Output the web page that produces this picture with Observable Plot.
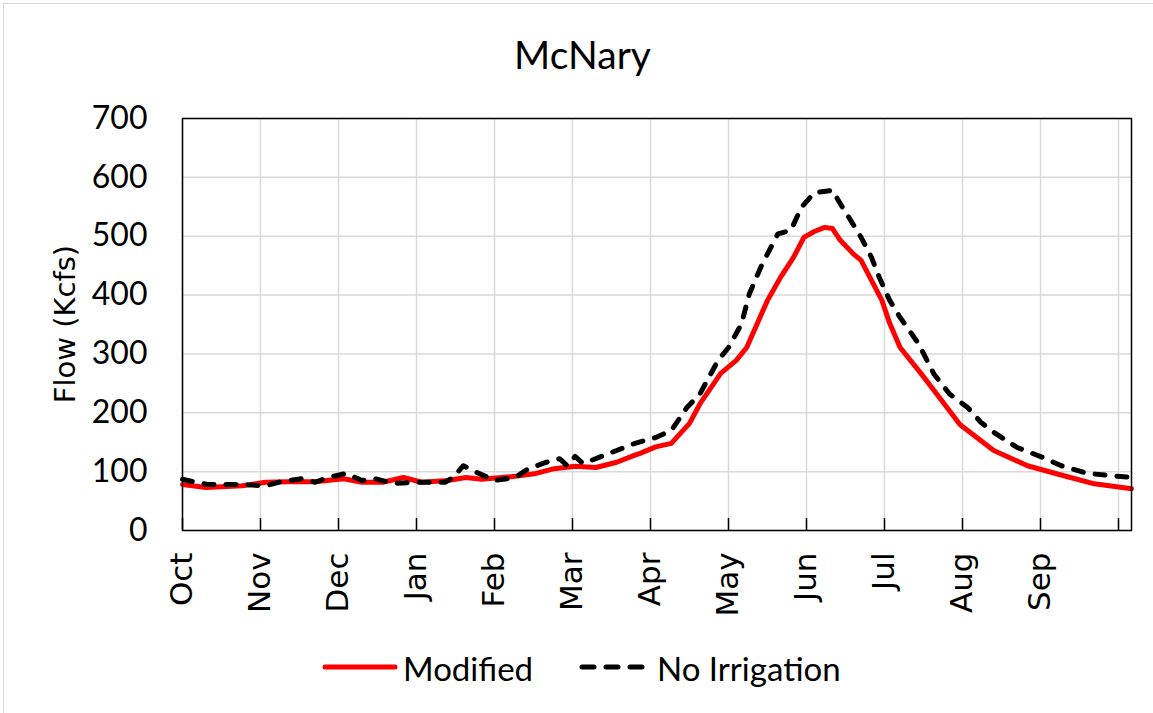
<!DOCTYPE html>
<html>
<head>
<meta charset="utf-8">
<script src="https://cdn.jsdelivr.net/npm/d3@7"></script>
<script src="https://cdn.jsdelivr.net/npm/@observablehq/plot@0.6"></script>
<style>
  html, body { margin: 0; padding: 0; background: #fff; }
  #wrap { position: relative; width: 1153px; height: 713px; overflow: hidden; background: #fff; }
  #border { position: absolute; left: 3px; top: 3px; width: 1200px; height: 800px; border-left: 1px solid #d9d9d9; border-top: 1px solid #d9d9d9; pointer-events: none; }
  #title { position: relative; height: 90px; }
  #title span { position: absolute; left: 0; width: 1165px; top: 35px; text-align: center; font-family: Lato, sans-serif; font-size: 39px; line-height: 1; color: #000; }
  #chart { position: relative; height: 560px; }
  #ylabel { position: absolute; left: 65px; top: 234px; transform: translate(-50%, -50%) rotate(-90deg); white-space: nowrap; font-family: "DejaVu Sans", sans-serif; font-size: 29px; line-height: 1; color: #000; }
  #legend { position: relative; height: 63px; font-family: Lato, sans-serif; font-size: 33px; line-height: 1; color: #000; }
  #legend .t { position: absolute; top: 2px; }
  #legend svg { position: absolute; top: 12px; }
</style>
</head>
<body>
<div id="wrap">
  <div id="border"></div>
  <div id="title"><span>McNary</span></div>
  <div id="chart"><div id="ylabel"></div></div>
  <div id="legend">
    <svg style="left:320px" width="80" height="10"><line x1="5" y1="5" x2="75" y2="5" stroke="#ff0000" stroke-width="5" stroke-linecap="round"/></svg>
    <span class="t" style="left:403px">Modified</span>
    <svg style="left:575px" width="76" height="10"><line x1="7" y1="5" x2="70" y2="5" stroke="#000" stroke-width="5" stroke-linecap="round" stroke-dasharray="12,12"/></svg>
    <span class="t" style="left:657px">No Irrigation</span>
  </div>
</div>
<script>
// Category ticks (every 30 days of the water year) and their labels
const xTickDays = [0, 30, 60, 90, 120, 150, 180, 210, 240, 270, 300, 330, 360];
const monthLabels = ["Oct", "Nov", "Dec", "Jan", "Feb", "Mar", "Apr", "May", "Jun", "Jul", "Aug", "Sep", ""];
const yTickValues = [0, 100, 200, 300, 400, 500, 600, 700];

// Modified series (day of water year, flow in kcfs)
const modDays = [0, 9, 23, 32, 40, 51, 62, 69, 77, 85, 92, 102, 109, 115, 128, 136, 143, 151, 159, 167, 174, 176, 182, 188, 195, 199, 207, 213, 217, 225, 230, 235, 239, 243, 247, 250, 253, 258, 261, 265, 269, 272, 276, 284, 292, 299, 307, 312, 325, 339, 350, 365];
const modFlow = [78, 73, 76, 82, 83, 83, 88, 82, 82, 90, 82, 85, 90, 87, 92, 97, 105, 109, 107, 116, 128, 131, 142, 148, 182, 215, 267, 289, 311, 391, 430, 464, 498, 508, 515, 513, 493, 470, 459, 425, 391, 352, 311, 267, 221, 180, 153, 136, 110, 93, 80, 71];

// No Irrigation series
const noIrrDays = [0, 5, 10, 23, 32, 38, 46, 51, 56, 63, 69, 74, 81, 90, 101, 104, 108, 113, 120, 128, 133, 140, 145, 148, 151, 154, 159, 167, 174, 182, 188, 194, 199, 206, 210, 215, 218, 223, 229, 234, 238, 243, 250, 253, 257, 261, 265, 268, 272, 276, 283, 289, 295, 302, 307, 312, 321, 331, 338, 348, 365];
const noIrrFlow = [87, 82, 78, 78, 76, 83, 88, 82, 90, 97, 85, 88, 80, 82, 82, 90, 110, 99, 85, 90, 105, 116, 122, 110, 126, 114, 122, 136, 148, 158, 170, 209, 232, 289, 311, 351, 402, 453, 504, 510, 549, 574, 578, 555, 527, 498, 464, 430, 391, 362, 318, 266, 232, 209, 184, 167, 141, 124, 110, 97, 90];

const yLabel = "Flow (Kcfs)";
document.getElementById("ylabel").textContent = yLabel;

const modified = modDays.map((d, i) => ({day: d, flow: modFlow[i]}));
const noIrrigation = noIrrDays.map((d, i) => ({day: d, flow: noIrrFlow[i]}));

const chart = Plot.plot({
  width: 1153,
  height: 560,
  marginTop: 28,
  marginBottom: 120,
  marginLeft: 182,
  marginRight: 22,
  x: {domain: [0, 365]},
  y: {domain: [0, 700]},
  style: {background: "transparent", color: "#000"},
  marks: [
    Plot.ruleY(yTickValues, {stroke: "#d9d9d9", strokeWidth: 1.5}),
    Plot.ruleX(xTickDays, {stroke: "#d9d9d9", strokeWidth: 1.5}),
    Plot.line(modified, {x: "day", y: "flow", stroke: "#ff0000", strokeWidth: 5, strokeLinejoin: "round", strokeLinecap: "round"}),
    Plot.line(noIrrigation, {x: "day", y: "flow", stroke: "#000", strokeWidth: 5, strokeDasharray: "10,12", strokeLinecap: "round", strokeLinejoin: "round"}),
    Plot.ruleX(xTickDays, {y1: 0, y2: 0, insetTop: -12, stroke: "#000", strokeWidth: 1.5}),
    Plot.frame({stroke: "#000", strokeWidth: 1.5}),
    Plot.axisY({ticks: yTickValues, tickSize: 0, tickPadding: 35, fontSize: 32, fontFamily: "Lato", label: null}),
    Plot.axisX({ticks: xTickDays, tickFormat: d => monthLabels[xTickDays.indexOf(d)], tickRotate: -90, tickSize: 0, tickPadding: 22, fontSize: 31, fontFamily: "DejaVu Sans", label: null})
  ]
});
document.getElementById("chart").appendChild(chart);
</script>
</body>
</html>
